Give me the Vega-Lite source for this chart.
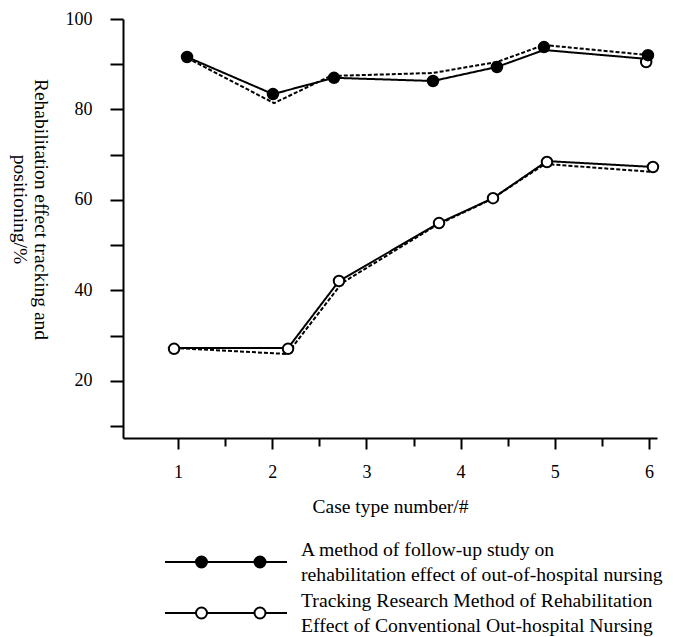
{
  "$schema": "https://vega.github.io/schema/vega-lite/v6.json",
  "autosize": {"type": "none"},
  "padding": {"left": 123, "top": 19, "right": 16, "bottom": 199},
  "width": 534,
  "height": 419,
  "background": "white",
  "config": {
    "view": {"stroke": null},
    "axis": {
      "grid": false,
      "domainColor": "black",
      "domainWidth": 2,
      "tickColor": "black",
      "tickWidth": 2,
      "labelFont": "Liberation Serif",
      "labelFontSize": 18,
      "labelColor": "black",
      "titleFont": "Liberation Serif",
      "titleFontSize": 19.5,
      "titleFontWeight": "normal",
      "titleColor": "black",
      "labelFlush": false,
      "labelOverlap": false
    }
  },
  "datasets": {
    "lines": [
      {"series": "S1", "style": "solid", "x": 1.096, "y": 91.6},
      {"series": "S1", "style": "solid", "x": 2.008, "y": 83.4},
      {"series": "S1", "style": "solid", "x": 2.656, "y": 87.0},
      {"series": "S1", "style": "solid", "x": 3.707, "y": 86.3},
      {"series": "S1", "style": "solid", "x": 4.386, "y": 89.4},
      {"series": "S1", "style": "solid", "x": 4.885, "y": 93.15},
      {"series": "S1", "style": "solid", "x": 5.989, "y": 91.16},
      {"series": "D1", "style": "dashed", "x": 1.096, "y": 91.4},
      {"series": "D1", "style": "dashed", "x": 2.019, "y": 81.4},
      {"series": "D1", "style": "dashed", "x": 2.62, "y": 87.4},
      {"series": "D1", "style": "dashed", "x": 3.707, "y": 88.07},
      {"series": "D1", "style": "dashed", "x": 4.386, "y": 90.5},
      {"series": "D1", "style": "dashed", "x": 4.885, "y": 94.25},
      {"series": "D1", "style": "dashed", "x": 5.989, "y": 92.04},
      {"series": "S2", "style": "solid", "x": 0.958, "y": 27.3},
      {"series": "S2", "style": "solid", "x": 2.168, "y": 27.3},
      {"series": "S2", "style": "solid", "x": 2.709, "y": 42.1},
      {"series": "S2", "style": "solid", "x": 3.771, "y": 54.9},
      {"series": "S2", "style": "solid", "x": 4.344, "y": 60.4},
      {"series": "S2", "style": "solid", "x": 4.917, "y": 68.6},
      {"series": "S2", "style": "solid", "x": 6.042, "y": 67.3},
      {"series": "D2", "style": "dashed", "x": 0.958, "y": 27.3},
      {"series": "D2", "style": "dashed", "x": 2.157, "y": 25.97},
      {"series": "D2", "style": "dashed", "x": 2.741, "y": 41.66},
      {"series": "D2", "style": "dashed", "x": 3.749, "y": 54.5},
      {"series": "D2", "style": "dashed", "x": 4.312, "y": 60.0},
      {"series": "D2", "style": "dashed", "x": 4.896, "y": 67.96},
      {"series": "D2", "style": "dashed", "x": 6.042, "y": 66.2}
    ],
    "markers": [
      {"marker": "B", "x": 5.97, "y": 90.5},
      {"marker": "B", "x": 0.958, "y": 27.1},
      {"marker": "B", "x": 2.168, "y": 27.1},
      {"marker": "B", "x": 2.709, "y": 42.1},
      {"marker": "B", "x": 3.771, "y": 54.9},
      {"marker": "B", "x": 4.344, "y": 60.4},
      {"marker": "B", "x": 4.917, "y": 68.4},
      {"marker": "B", "x": 6.042, "y": 67.3},
      {"marker": "A", "x": 1.096, "y": 91.6},
      {"marker": "A", "x": 2.008, "y": 83.4},
      {"marker": "A", "x": 2.656, "y": 87.0},
      {"marker": "A", "x": 3.707, "y": 86.3},
      {"marker": "A", "x": 4.386, "y": 89.4},
      {"marker": "A", "x": 4.885, "y": 93.8},
      {"marker": "A", "x": 5.989, "y": 92.0}
    ]
  },
  "layer": [
    {
      "data": {"name": "lines"},
      "mark": {"type": "line", "color": "black", "strokeWidth": 2},
      "encoding": {
        "x": {
          "field": "x", "type": "quantitative",
          "scale": {"domain": [0.416, 6.085], "nice": false, "zero": false},
          "axis": {
            "values": [1, 1.5, 2, 2.5, 3, 3.5, 4, 4.5, 5, 5.5, 6],
            "labelExpr": "datum.value % 1 === 0 ? format(datum.value, 'd') : ''",
            "tickSize": {"condition": {"test": "datum.value % 1 === 0", "value": 11}, "value": 8},
            "labelPadding": 14,
            "title": "Case type number/#",
            "titlePadding": 16
          }
        },
        "y": {
          "field": "y", "type": "quantitative",
          "scale": {"domain": [7.4, 100], "nice": false, "zero": false},
          "axis": {
            "values": [10, 15, 20, 25, 30, 35, 40, 45, 50, 55, 60, 65, 70, 75, 80, 85, 90, 95, 100],
            "labelExpr": "datum.value % 20 === 0 ? datum.label : ''",
            "tickSize": {"condition": {"test": "datum.value % 10 === 0", "value": 13}, "value": 8},
            "labelPadding": 18,
            "title": ["Rehabilitation effect tracking and", "positioning/%"],
            "titleAngle": 90,
            "titleLineHeight": 21,
            "titlePadding": 14,
            "titleY": 190
          }
        },
        "detail": {"field": "series"},
        "strokeDash": {
          "field": "style", "type": "nominal",
          "scale": {"domain": ["solid", "dashed"], "range": [[1, 0], [4, 2]]},
          "legend": null
        }
      }
    },
    {
      "data": {"name": "markers"},
      "mark": {"type": "point", "shape": "circle", "filled": true, "size": 110, "stroke": "black", "strokeWidth": 2, "opacity": 1},
      "encoding": {
        "x": {"field": "x", "type": "quantitative"},
        "y": {"field": "y", "type": "quantitative"},
        "fill": {
          "field": "marker", "type": "nominal",
          "scale": {"domain": ["A", "B"], "range": ["black", "white"]},
          "legend": {
            "orient": "none",
            "legendX": 42,
            "legendY": 532,
            "direction": "vertical",
            "title": null,
            "padding": 0,
            "rowPadding": 5,
            "symbolType": "M-6.1,0L-3,0M-1.9,0L2.85,0M3.95,0L6.1,0M-3,0A0.55,0.55 0 1 1 -1.9,0A0.55,0.55 0 1 1 -3,0ZM2.85,0A0.55,0.55 0 1 1 3.95,0A0.55,0.55 0 1 1 2.85,0Z",
            "symbolSize": 400,
            "symbolStrokeColor": "black",
            "symbolStrokeWidth": 2,
            "symbolOpacity": 1,
            "symbolOffset": 50,
            "labelOffset": 64,
            "labelFont": "Liberation Serif",
            "labelFontSize": 19.7,
            "labelColor": "black",
            "labelLimit": 0,
            "labelBaseline": "middle",
            "labelExpr": "datum.value === 'A' ? ['A method of follow-up study on', 'rehabilitation effect of out-of-hospital nursing'] : ['Tracking Research Method of Rehabilitation', 'Effect of Conventional Out-hospital Nursing']",
            "encode": {
              "labels": {"update": {"lineHeight": {"value": 25}, "dy": {"value": -12.5}}},
              "symbols": {"update": {"size": {"value": 400}, "stroke": {"value": "black"}, "strokeWidth": {"value": 2}}}
            }
          }
        }
      }
    }
  ]
}
